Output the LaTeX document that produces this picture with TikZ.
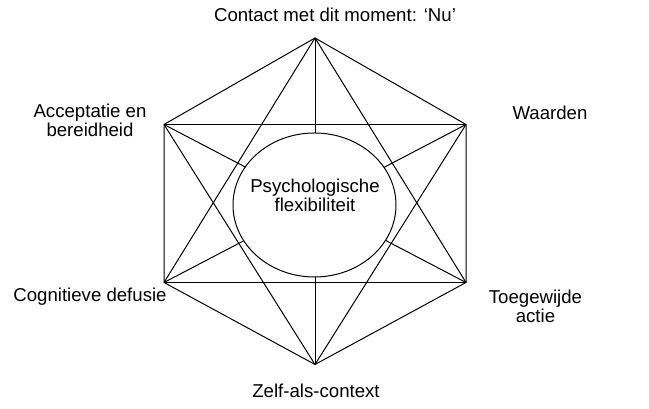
\documentclass[tikz,border=0pt]{standalone}
\usepackage{fontspec}
\setmainfont{Liberation Sans}
\usetikzlibrary{shapes.geometric}
\begin{document}
\begin{tikzpicture}[
    thinline/.style={line width=0.02cm},
    cornertext/.style={align=center, anchor=base, inner sep=0pt, font=\fontsize{10.6}{11.34}\selectfont}]
    \useasboundingbox (0,0) rectangle (12.98,8.18);
    % corners of the hexagon
    \coordinate (nu) at (6.30,7.42);
    \coordinate (waarden) at (9.32,5.69);
    \coordinate (actie) at (9.32,2.53);
    \coordinate (zelf) at (6.30,0.89);
    \coordinate (defusie) at (3.28,2.53);
    \coordinate (acceptatie) at (3.28,5.69);
    % hexagon, rectangle, star and diagonals
    \draw[thinline] (nu) -- (waarden) -- (actie) -- (zelf) -- (defusie) -- (acceptatie) -- cycle;
    \draw[thinline] (acceptatie) -- (waarden);
    \draw[thinline] (defusie) -- (actie);
    \draw[thinline] (nu) -- (defusie);
    \draw[thinline] (nu) -- (actie);
    \draw[thinline] (zelf) -- (acceptatie);
    \draw[thinline] (zelf) -- (waarden);
    \draw[thinline] (nu) -- (zelf);
    \draw[thinline] (acceptatie) -- (actie);
    \draw[thinline] (waarden) -- (defusie);
    % centre
    \node[ellipse, thinline, draw, fill=white, minimum width=3.26cm, minimum height=2.88cm, inner sep=0pt] (flex) at (6.29,4.08) {};
    \node[cornertext] (flextext) at (6.30,3.94) {Psychologische\\flexibiliteit};
    % labels
    \node[cornertext] (nutext) at (6.70,7.74) {Contact met dit moment: ‘Nu’};
    \node[cornertext] (waardentext) at (11.00,5.79) {Waarden};
    \node[cornertext] (actietext) at (10.71,1.72) {Toegewijde\\actie};
    \node[cornertext] (zelftext) at (6.32,0.22) {Zelf-als-context};
    \node[cornertext] (defusietext) at (1.80,2.14) {Cognitieve defusie};
    \node[cornertext] (acceptatietext) at (1.80,5.44) {Acceptatie en\\bereidheid};
\end{tikzpicture}
\end{document}
